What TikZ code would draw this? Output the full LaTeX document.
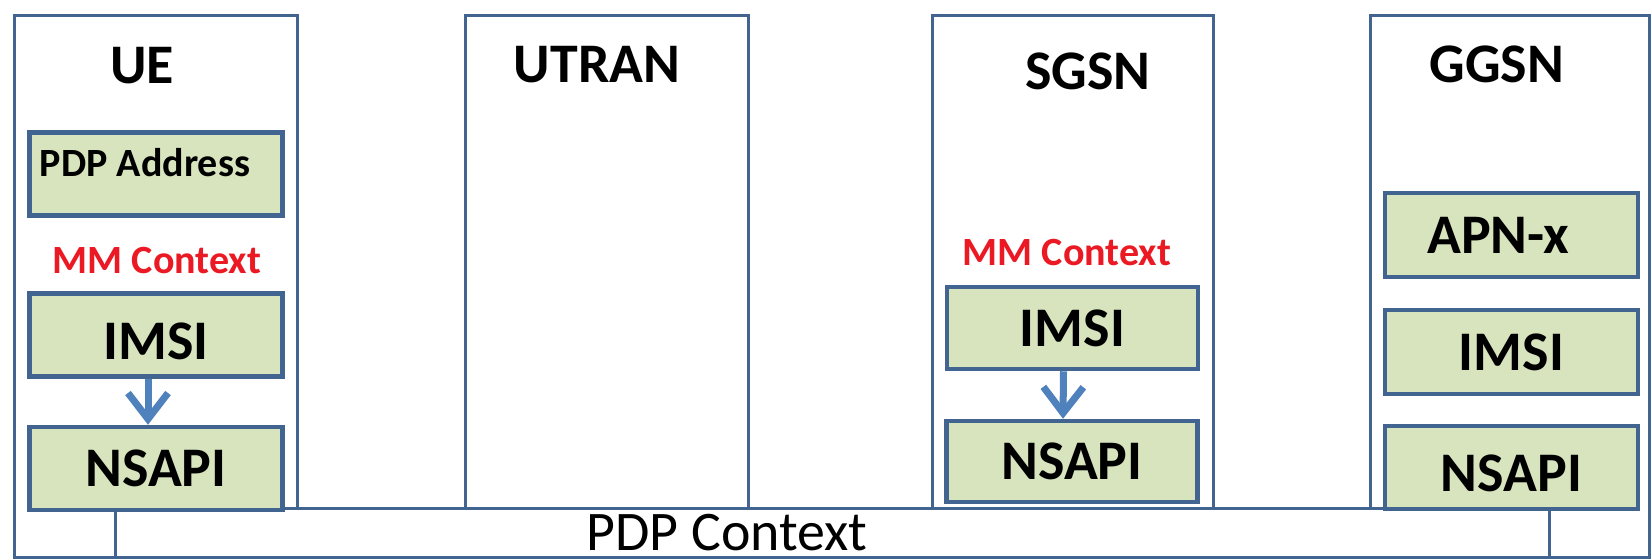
\documentclass[tikz,border=0pt]{standalone}
\usepackage{fontspec}
\setmainfont{Carlito}
\usepackage{tikz}
\usetikzlibrary{arrows.meta}
\definecolor{boxline}{RGB}{65,100,145}
\definecolor{fieldfill}{RGB}{215,228,189}
\definecolor{linkblue}{RGB}{79,129,189}
\definecolor{mmred}{RGB}{235,25,35}
\tikzset{
	entity/.style={draw=boxline, line width=0.3mm, fill=white},
	title/.style={anchor=base, font=\bfseries\fontsize{15.9}{19}\selectfont},
	field/.style={draw=boxline, line width=0.45mm, fill=fieldfill, minimum width=25.3mm, minimum height=8.3mm, inner sep=0pt, text height=3.6mm, text depth=0mm, font=\bfseries\fontsize{15.9}{19}\selectfont},
	smallfield/.style={field, text height=2.6mm, font=\bfseries\fontsize{11.4}{14}\selectfont},
	context/.style={anchor=base, text=mmred, font=\bfseries\fontsize{11.4}{14}\selectfont},
	link/.style={draw=linkblue, line width=0.7mm, -{Straight Barb[length=2.6mm,width=4mm]}}
}

\begin{document}
\begin{tikzpicture}[x=1mm, y=-1mm]
		%%%%% START %%%%%
		\useasboundingbox (0, 0) rectangle (165.2, 55.9);
		
		\draw[entity] (1.4, 1.5) rectangle (29.7, 55.7);
		\draw[entity] (46.5, 1.5) rectangle (74.8, 55.7);
		\draw[entity] (93.2, 1.5) rectangle (121.3, 55.7);
		\draw[entity] (137.0, 1.5) rectangle (164.9, 55.7);
		
		\draw[entity] (11.5, 50.8) rectangle (154.9, 55.7);
		\node[anchor=base, inner sep=0pt, font=\fontsize{15.9}{19}\selectfont] (pdp) at (72.7, 55.0) {PDP Context};
		
		\node[title] (ue) at (14.2, 8.3) {UE};
		\node[title] (utran) at (59.7, 8.2) {UTRAN};
		\node[title] (sgsn) at (108.8, 8.9) {SGSN};
		\node[title] (ggsn) at (149.7, 8.2) {GGSN};
		
		% UE
		\node[smallfield] (ue-addr) at (15.6, 17.4) {\hspace*{-2.2mm}\raisebox{1.1mm}{PDP Address}};
		\node[context] (ue-mm) at (15.7, 27.3) {MM Context};
		\node[field] (ue-imsi) at (15.6, 33.5) {\raisebox{-0.6mm}{IMSI}};
		\node[field] (ue-nsapi) at (15.6, 46.85) {NSAPI};
		\draw[link] ([xshift=-0.8mm]ue-imsi.south) -- ([xshift=-0.8mm]ue-nsapi.north);
		
		% SGSN
		\node[context] (sgsn-mm) at (106.7, 26.5) {MM Context};
		\node[field, minimum width=25.1mm, minimum height=8.2mm] (sgsn-imsi) at (107.25, 32.8) {IMSI};
		\node[field, minimum width=25.1mm, minimum height=8.1mm] (sgsn-nsapi) at (107.2, 46.15) {NSAPI};
		\draw[link] ([xshift=-0.9mm]sgsn-imsi.south) -- ([xshift=-0.9mm]sgsn-nsapi.north);
		
		% GGSN
		\node[field, minimum height=8.4mm] (ggsn-apn) at (151.15, 23.5) {\hspace*{-2.6mm}APN-x};
		\node[field, minimum height=8.4mm] (ggsn-imsi) at (151.15, 35.2) {IMSI};
		\node[field] (ggsn-nsapi) at (151.15, 46.75) {\raisebox{-0.6mm}{NSAPI}};
		
		%%%%% END %%%%%
\end{tikzpicture}
\end{document}
